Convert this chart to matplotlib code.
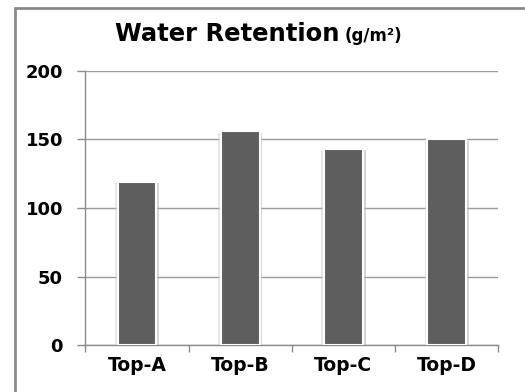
import matplotlib.pyplot as plt
import matplotlib.patheffects as pe
from matplotlib.patches import Rectangle

# 보수량 데이터 (g/m2)
categories = ['Top-A', 'Top-B', 'Top-C', 'Top-D']
values = [119, 156, 143, 150]
y_ticks = [0, 50, 100, 150, 200]

W, H = 525, 392
fig = plt.figure(figsize=(W / 100, H / 100), dpi=100)
ax = fig.add_axes([85.3 / W, 1 - 345 / H, (498.3 - 85.3) / W, (345 - 71) / H])

# 바깥 테두리 (오른쪽, 아래는 잘림)
fig.patches.append(Rectangle((14.5 / W, -0.1), 1.2, 1 - 7.5 / H + 0.1,
                             transform=fig.transFigure, fill=False,
                             edgecolor='#8a8a8a', linewidth=2.0))

bars = ax.bar(range(len(categories)), values, width=0.375, color='#5e5e5e',
              edgecolor='white', linewidth=1.5, zorder=3)
for b in bars:
    b.set_path_effects([pe.SimplePatchShadow(offset=(2, -1), shadow_rgbFace='#b8b8b8', alpha=0.6),
                        pe.SimplePatchShadow(offset=(-2, -1), shadow_rgbFace='#d0d0d0', alpha=0.5),
                        pe.Normal()])

ax.set_xlim(-0.5, len(categories) - 0.5)
ax.set_ylim(0, 200)
ax.set_yticks(y_ticks)
ax.set_xticks(range(len(categories)))
ax.set_xticklabels(categories)

# 카테고리 경계에 눈금
ax.set_xticks([i - 0.5 for i in range(len(categories) + 1)], minor=True)
ax.tick_params(axis='x', which='major', length=0, pad=8)
ax.tick_params(axis='x', which='minor', length=5, color='#8a8a8a', width=1)
ax.tick_params(axis='y', length=6, color='#8a8a8a', width=1, pad=10)
for lab in ax.get_xticklabels():
    lab.set_fontweight('bold')
    lab.set_fontsize(13.5)
for lab in ax.get_yticklabels():
    lab.set_fontweight('bold')
    lab.set_fontsize(13)

ax.grid(axis='y', color='#9a9a9a', linewidth=1, zorder=0)
ax.set_axisbelow(True)
for s in ['top', 'right']:
    ax.spines[s].set_visible(False)
for s in ['left', 'bottom']:
    ax.spines[s].set_color('#8a8a8a')
    ax.spines[s].set_linewidth(1)

# 제목
t1 = fig.text(115 / W, 1 - 41 / H, 'Water Retention', fontsize=17.5, fontweight='bold',
              ha='left', va='baseline')
fig.canvas.draw()
bb = t1.get_window_extent()
fig.text((bb.x1 + 5) / W, 1 - 41 / H, '(g/m²)', fontsize=12, fontweight='bold',
         ha='left', va='baseline')

fig.savefig('out.png', dpi=100)
